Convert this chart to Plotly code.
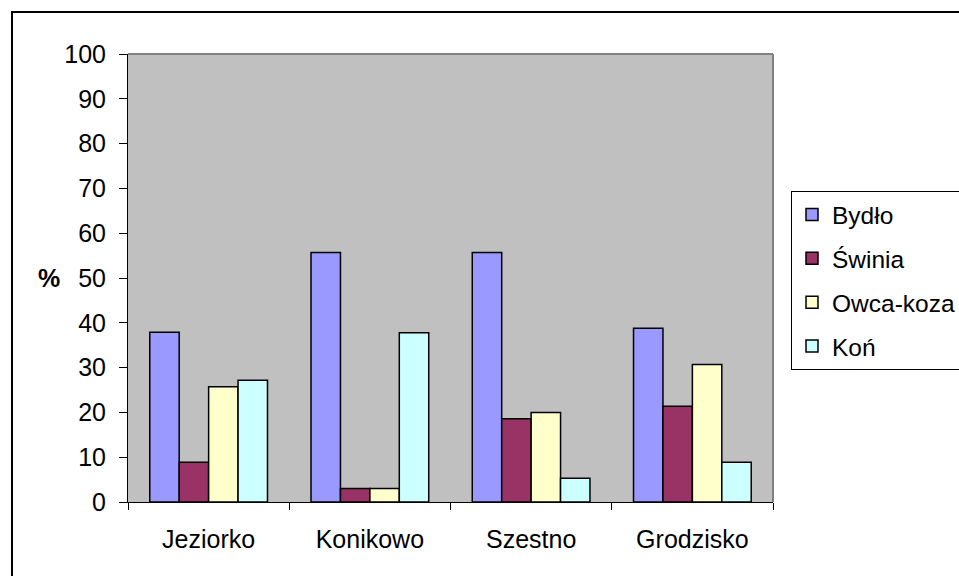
import plotly.graph_objects as go

categories = ["Jeziorko", "Konikowo", "Szestno", "Grodzisko"]
series_names = ["Bydło", "Świnia", "Owca-koza", "Koń"]
bydlo = [37.9, 55.7, 55.7, 38.8]
swinia = [8.9, 3.0, 18.6, 21.4]
owca_koza = [25.7, 3.0, 20.0, 30.7]
kon = [27.2, 37.8, 5.3, 8.9]
y_ticks = [0, 10, 20, 30, 40, 50, 60, 70, 80, 90, 100]

colors = ["#9999FF", "#993366", "#FFFFCC", "#CCFFFF"]
values = [bydlo, swinia, owca_koza, kon]

FONT = "Liberation Sans, Arial, sans-serif"

W, H = 959, 576
L, R, T, B = 128, 186, 54, 74
pw, ph = W - L - R, H - T - B

def px_x(x):
    return (x - L) / pw

def px_y(y):
    return (H - B - y) / ph

fig = go.Figure()
for i, (name, vals, col) in enumerate(zip(series_names, values, colors)):
    fig.add_trace(go.Bar(
        x=categories, y=vals, name=name,
        marker=dict(color=col, line=dict(color="black", width=1.5)),
        legendgroup=f"g{i}",
    ))

fig.update_layout(
    width=W, height=H,
    margin=dict(l=L, r=R, t=T, b=B, autoexpand=False),
    paper_bgcolor="white",
    plot_bgcolor="#C0C0C0",
    barmode="group",
    bargap=0.27,
    bargroupgap=0,
    font=dict(family=FONT, size=25, color="black"),
    showlegend=True,
    legend=dict(
        x=px_x(791), y=px_y(191), xanchor="left", yanchor="top",
        bgcolor="white", bordercolor="black", borderwidth=1,
        font=dict(family=FONT, size=24.5, color="black"),
        tracegroupgap=9, itemwidth=30,
    ),
    xaxis=dict(
        showgrid=False, showline=True, linecolor="black", linewidth=1,
        ticks="outside", ticklen=7, tickcolor="black", tickwidth=1,
        tickson="boundaries", ticklabelstandoff=15,
        tickfont=dict(family=FONT, size=25, color="black"),
    ),
    yaxis=dict(
        range=[0, 100], tickvals=y_ticks,
        showgrid=False, zeroline=False, showline=True, linecolor="black", linewidth=1,
        ticks="outside", ticklen=8, tickcolor="black", tickwidth=1,
        ticklabelstandoff=8,
        tickfont=dict(family=FONT, size=25, color="black"),
    ),
    shapes=[
        # plot area top/right border (gray)
        dict(type="line", xref="paper", yref="paper", x0=0, x1=1, y0=1, y1=1,
             line=dict(color="#808080", width=2)),
        dict(type="line", xref="paper", yref="paper", x0=1, x1=1, y0=0, y1=1,
             line=dict(color="#808080", width=2)),
        # outer chart border
        dict(type="rect", xref="paper", yref="paper",
             x0=px_x(12), x1=px_x(1010), y0=px_y(12), y1=px_y(620),
             line=dict(color="black", width=2), fillcolor="rgba(0,0,0,0)"),
    ],
    annotations=[
        dict(text="<b>%</b>", xref="paper", yref="paper", x=px_x(49), y=px_y(278),
             xanchor="center", yanchor="middle", showarrow=False,
             font=dict(family=FONT, size=25, color="black")),
    ],
)

fig.write_html(
    "out.html",
    config={"displayModeBar": False},
    post_script="document.body.style.margin='0';document.body.style.overflow='hidden';",
)
